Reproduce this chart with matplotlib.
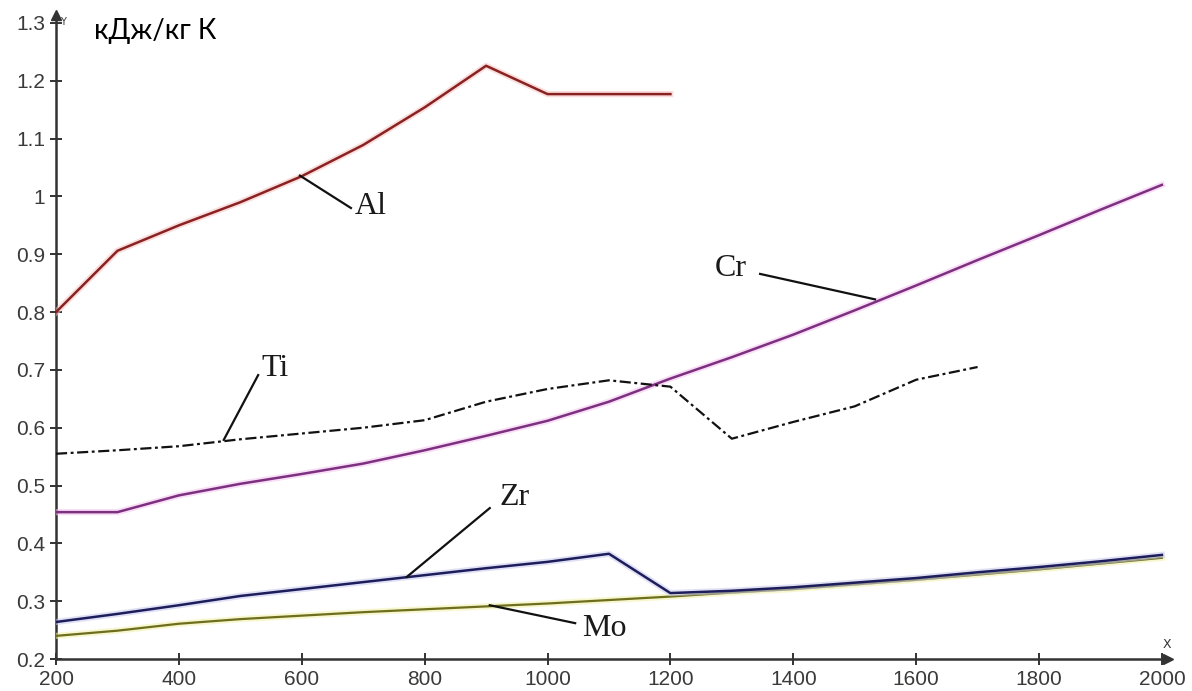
import matplotlib
matplotlib.use("Agg")
import matplotlib.pyplot as plt
import matplotlib.patheffects as pe

# Temperature, K
temp = [200, 300, 400, 500, 600, 700, 800, 900, 1000, 1100, 1200,
        1300, 1400, 1500, 1600, 1700, 1800, 1900, 2000]

# Specific heat capacity, kJ/(kg K)
al_t = [200, 300, 400, 500, 600, 700, 800, 900, 1000, 1100, 1200]
al_c = [0.800, 0.906, 0.950, 0.990, 1.035, 1.089, 1.154, 1.226, 1.177, 1.177, 1.177]

cr_c = [0.454, 0.454, 0.483, 0.503, 0.520, 0.538, 0.561, 0.586, 0.612, 0.645,
        0.685, 0.722, 0.761, 0.803, 0.846, 0.890, 0.933, 0.977, 1.020]

ti_t = [200, 300, 400, 500, 600, 700, 800, 900, 1000, 1100, 1200,
        1300, 1400, 1500, 1600, 1700]
ti_c = [0.555, 0.561, 0.568, 0.580, 0.590, 0.600, 0.613, 0.645, 0.667, 0.682,
        0.671, 0.581, 0.610, 0.637, 0.683, 0.705]

zr_c = [0.264, 0.278, 0.293, 0.309, 0.321, 0.333, 0.345, 0.357, 0.368, 0.382,
        0.314, 0.318, 0.324, 0.332, 0.340, 0.350, 0.359, 0.369, 0.380]

mo_c = [0.240, 0.249, 0.261, 0.269, 0.275, 0.281, 0.286, 0.291, 0.296, 0.302,
        0.308, 0.315, 0.321, 0.329, 0.337, 0.346, 0.355, 0.365, 0.375]

x_ticks = [200, 400, 600, 800, 1000, 1200, 1400, 1600, 1800, 2000]
y_ticks = [0.2, 0.3, 0.4, 0.5, 0.6, 0.7, 0.8, 0.9, 1.0, 1.1, 1.2, 1.3]
y_tick_labels = ["0.2", "0.3", "0.4", "0.5", "0.6", "0.7", "0.8", "0.9",
                 "1", "1.1", "1.2", "1.3"]

# (name, leader start, leader end, text position)
callouts = [
    ("Al", (597, 1.036), (680, 0.980), (712, 0.983)),
    ("Cr", (1533, 0.822), (1346, 0.866), (1298, 0.876)),
    ("Ti", (473, 0.579), (529, 0.691), (556, 0.703)),
    ("Zr", (771, 0.342), (906, 0.461), (947, 0.479)),
    ("Mo", (906, 0.293), (1045, 0.262), (1093, 0.252)),
]

fig = plt.figure(figsize=(11.92, 6.91), dpi=100)
ax = fig.add_axes([0.047, 0.0463, 0.9329, 0.932])
ax.set_xlim(200, 2010)
ax.set_ylim(0.2, 1.3138)

axis_col = "#333333"


def halo(color, w=4.5):
    return [pe.Stroke(linewidth=w, foreground=color, alpha=0.55), pe.Normal()]


ax.plot(temp, mo_c, color="#6e6e1e", lw=1.6, path_effects=halo("#f2f2a8"), zorder=3)
ax.plot(temp, zr_c, color="#1d1d5c", lw=1.8, path_effects=halo("#c8c8ee"), zorder=4)
ax.plot(temp, cr_c, color="#7d2f80", lw=1.8, path_effects=halo("#f3c4f0"), zorder=3)
ax.plot(ti_t, ti_c, color="#111111", lw=1.6, ls=(0, (5, 1.6, 1.3, 1.6)), zorder=4)
ax.plot(al_t, al_c, color="#8a2222", lw=1.8, path_effects=halo("#f6c4c4"), zorder=3)

for name, p0, p1, pt in callouts:
    ax.plot([p0[0], p1[0]], [p0[1], p1[1]], color="#111111", lw=1.6, zorder=5)
    ax.text(pt[0], pt[1], name, family="Liberation Serif", fontsize=23,
            color="#1a1a1a", ha="center", va="center", zorder=6)

# axes with arrow heads
for s in ("top", "right"):
    ax.spines[s].set_visible(False)
for s in ("left", "bottom"):
    ax.spines[s].set_color(axis_col)
    ax.spines[s].set_linewidth(1.8)
ax.plot(1, 0, marker=">", ms=7, color=axis_col, transform=ax.transAxes, clip_on=False)
ax.plot(0, 1, marker="^", ms=7, color=axis_col, transform=ax.transAxes, clip_on=False)

ax.set_xticks(x_ticks)
ax.set_xticklabels([str(v) for v in x_ticks])
ax.set_yticks(y_ticks)
ax.set_yticklabels(y_tick_labels)
ax.tick_params(direction="inout", length=8, width=1.4, color=axis_col,
               labelsize=15, labelcolor="#3a3a3a", pad=4)
for lab in ax.get_xticklabels() + ax.get_yticklabels():
    lab.set_family("Liberation Sans")

ax.text(206, 1.302, "Y", fontsize=7, color=axis_col, family="DejaVu Sans",
        ha="left", va="center")
ax.text(2009, 0.225, "X", fontsize=9, color=axis_col, family="DejaVu Sans",
        ha="center", va="center", clip_on=False)

ax.text(262, 1.272, "кДж/кг К", family="Lato", fontsize=20, color="#000000",
        ha="left", va="baseline")

fig.savefig("out.png", dpi=100, facecolor="white")
